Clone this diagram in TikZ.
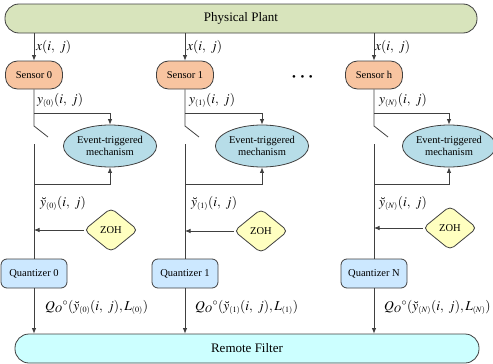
\documentclass[tikz,border=0pt]{standalone}
\usepackage{mathptmx}
\usepackage{fontspec}
\setmainfont{Liberation Serif}
\usetikzlibrary{arrows.meta,shapes.geometric}
\definecolor{plantc}{RGB}{216,228,188}
\definecolor{sensc}{RGB}{248,196,160}
\definecolor{ellc}{RGB}{183,221,232}
\definecolor{zohc}{RGB}{255,255,192}
\definecolor{quanc}{RGB}{204,232,255}
\definecolor{remc}{RGB}{204,255,255}
\definecolor{linec}{RGB}{64,64,64}
\newcommand{\sbx}[1]{_{\scriptscriptstyle(#1)}}
\tikzset{
  bigbox/.style={draw=linec, line width=0.8pt, rounded corners=14pt, minimum height=29pt, inner sep=0pt, font=\fontsize{13}{15}\selectfont},
  sensbox/.style={draw=linec, line width=0.8pt, fill=sensc, rounded corners=12pt, minimum width=57pt, minimum height=28pt, inner sep=0pt, font=\fontsize{10.5}{12}\selectfont},
  evbox/.style={draw=linec, line width=0.8pt, fill=ellc, ellipse, minimum width=92pt, minimum height=42pt, inner sep=0pt, align=center, font=\fontsize{10.5}{12}\selectfont},
  zohbox/.style={draw=linec, line width=0.8pt, fill=zohc, diamond, rounded corners=5pt, minimum width=54pt, minimum height=44pt, inner sep=0pt, font=\fontsize{10.5}{12}\selectfont},
  quanbox/.style={draw=linec, line width=0.8pt, fill=quanc, rounded corners=6pt, minimum width=66pt, minimum height=29pt, inner sep=0pt, font=\fontsize{10.5}{12}\selectfont},
  wire/.style={draw=linec, line width=0.8pt},
  arr/.style={wire, -{Latex[length=5.5pt,width=4.5pt]}},
  lab/.style={anchor=west, inner sep=0pt, font=\fontsize{13.5}{15}\selectfont},
}
\begin{document}
\begin{tikzpicture}[x=1pt,y=-1pt]
\useasboundingbox (0,0) rectangle (493,364);
\node[bigbox, fill=plantc, minimum width=472pt] (plant) at (241,18.5) {Physical Plant};
\node[bigbox, fill=remc, minimum width=464pt] (remote) at (247,348.5) {Remote Filter};

\node[sensbox] (s0) at (34,75) {Sensor 0};
\node[sensbox] (s1) at (185,75) {Sensor 1};
\node[sensbox] (sN) at (374,75) {Sensor h};
\node[font=\fontsize{11}{13}\selectfont, inner sep=0pt] (dots) at (302.5,78) {\textbullet\hspace{4.5pt}\textbullet\hspace{4.5pt}\textbullet};

\node[evbox] (e0) at (110,146) {Event-triggered\\mechanism};
\node[evbox] (e1) at (262,146) {Event-triggered\\mechanism};
\node[evbox, minimum width=88pt] (eN) at (449,146) {Event-triggered\\mechanism};

\node[zohbox] (z0) at (111,230) {ZOH};
\node[zohbox] (z1) at (261,231) {ZOH};
\node[zohbox] (zN) at (450,228) {ZOH};

\node[quanbox] (q0) at (34,273.5) {Quantizer 0};
\node[quanbox] (q1) at (185,273.5) {Quantizer 1};
\node[quanbox] (qN) at (374,273.5) {Quantizer N};

% column 0
\draw[arr] (plant.south -| s0) -- (s0.north);
\coordinate (b0) at (34,113);
\coordinate (c0) at (34,144);
\coordinate (d0) at (34,184);
\draw[wire] (s0.south) -- (34,126) -- (48,137);
\draw[arr] (b0) -| (e0.north);
\draw[wire] (c0) -- (q0.north);
\draw[arr] (d0) -| (e0.south);
\draw[arr] (z0.west) -- (z0.west -| c0);
\draw[arr] (q0.south) -- (q0.south |- remote.north);

% column 1
\draw[arr] (plant.south -| s1) -- (s1.north);
\coordinate (b1) at (185,113);
\coordinate (c1) at (185,144);
\coordinate (d1) at (185,184);
\draw[wire] (s1.south) -- (185,126) -- (199,137);
\draw[arr] (b1) -| (e1.north);
\draw[wire] (c1) -- (q1.north);
\draw[arr] (d1) -| (e1.south);
\draw[arr] (z1.west) -- (z1.west -| c1);
\draw[arr] (q1.south) -- (q1.south |- remote.north);

% column N
\draw[arr] (plant.south -| sN) -- (sN.north);
\coordinate (bN) at (374,113);
\coordinate (cN) at (374,144);
\coordinate (dN) at (374,184);
\draw[wire] (sN.south) -- (374,126) -- (388,137);
\draw[arr] (bN) -| (eN.north);
\draw[wire] (cN) -- (qN.north);
\draw[arr] (dN) -| (eN.south);
\draw[arr] (zN.west) -- (zN.west -| cN);
\draw[arr] (qN.south) -- (qN.south |- remote.north);

% labels
\node[lab] (lx0) at (36,47) {$x(i,\ j)$};
\node[lab] (lx1) at (187,47) {$x(i,\ j)$};
\node[lab] (lxN) at (375,47) {$x(i,\ j)$};
\node[lab] (ly0) at (37,100) {$y\sbx{0}(i,\ j)$};
\node[lab] (ly1) at (189,100) {$y\sbx{1}(i,\ j)$};
\node[lab] (lyN) at (379,100) {$y\sbx{N}(i,\ j)$};
\node[lab] (lb0) at (40,203) {$\breve{y}\sbx{0}(i,\ j)$};
\node[lab] (lb1) at (191,203) {$\breve{y}\sbx{1}(i,\ j)$};
\node[lab] (lbN) at (379,203) {$\breve{y}\sbx{N}(i,\ j)$};
\node[lab] (lq0) at (45,307) {$Q_O{}^{\circ}(\breve{y}\sbx{0}(i,\ j), L\sbx{0})$};
\node[lab] (lq1) at (195,307) {$Q_O{}^{\circ}(\breve{y}\sbx{1}(i,\ j), L\sbx{1})$};
\node[lab] (lqN) at (384,307) {$Q_O{}^{\circ}(\breve{y}\sbx{N}(i,\ j), L\sbx{N})$};
\end{tikzpicture}
\end{document}
